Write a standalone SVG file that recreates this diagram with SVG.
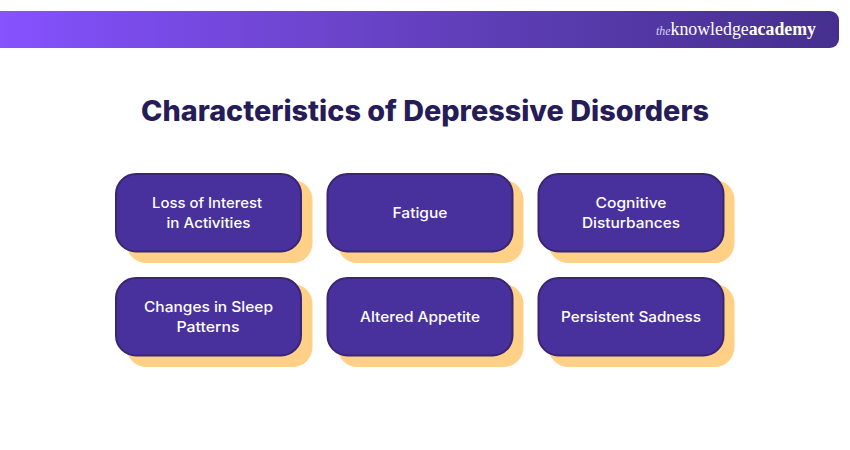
<svg xmlns="http://www.w3.org/2000/svg" width="850" height="450" viewBox="0 0 850 450">
<style>
.s{fill:#ffd086}
.c{fill:#48319d;stroke:#3a2670;stroke-width:2}
.t{font-family:"Inter","Open Sans",sans-serif;font-size:14.5px;font-weight:500;fill:#fff;text-anchor:middle}
.h{font-family:"Inter","Open Sans",sans-serif;font-size:28px;font-weight:800;fill:#261c58;text-anchor:middle}
.l{font-family:"Liberation Serif",serif;font-size:18px;fill:#fff}
</style>
<defs><linearGradient id="g" x1="0" y1="0" x2="1" y2="0"><stop offset="0" stop-color="#8752ff"/><stop offset=".14" stop-color="#7b4cec"/><stop offset=".36" stop-color="#6e45d0"/><stop offset=".64" stop-color="#5a3cb0"/><stop offset="1" stop-color="#452f8e"/></linearGradient></defs>
<g id="banner"><path d="M0 11H830a9 9 0 0 1 9 9V39a9 9 0 0 1-9 9H0Z" fill="url(#g)"/>
<text x="656" y="35" class="l" textLength="160" lengthAdjust="spacingAndGlyphs"><tspan font-style="italic" font-size="12" fill="#d8d0ee">the</tspan><tspan>knowledge</tspan><tspan font-weight="700">academy</tspan></text></g>
<text id="title" x="425" y="121" class="h" textLength="568" lengthAdjust="spacingAndGlyphs">Characteristics of Depressive Disorders</text>
<g id="n1"><rect class="s" x="126.500" y="180" width="186" height="83" rx="20"/><rect class="c" x="116" y="174" width="185" height="77.500" rx="20"/><text class="t" x="207" y="208" textLength="110" lengthAdjust="spacingAndGlyphs">Loss of Interest</text><text class="t" x="208.500" y="228" textLength="84" lengthAdjust="spacingAndGlyphs">in Activities</text></g>
<g id="n2"><rect class="s" x="337.500" y="180" width="186" height="83" rx="20"/><rect class="c" x="327.500" y="174" width="185" height="77.500" rx="20"/><text class="t" x="420" y="218" textLength="55" lengthAdjust="spacingAndGlyphs">Fatigue</text></g>
<g id="n3"><rect class="s" x="548.500" y="180" width="186" height="83" rx="20"/><rect class="c" x="538.500" y="174" width="185" height="77.500" rx="20"/><text class="t" x="631" y="208" textLength="71" lengthAdjust="spacingAndGlyphs">Cognitive</text><text class="t" x="631" y="228" textLength="98" lengthAdjust="spacingAndGlyphs">Disturbances</text></g>
<g id="n4"><rect class="s" x="126.500" y="284" width="186" height="83" rx="20"/><rect class="c" x="116" y="278" width="185" height="77.500" rx="20"/><text class="t" x="208.500" y="312" textLength="129" lengthAdjust="spacingAndGlyphs">Changes in Sleep</text><text class="t" x="208" y="332" textLength="63" lengthAdjust="spacingAndGlyphs">Patterns</text></g>
<g id="n5"><rect class="s" x="337.500" y="284" width="186" height="83" rx="20"/><rect class="c" x="327.500" y="278" width="185" height="77.500" rx="20"/><text class="t" x="420" y="322" textLength="120" lengthAdjust="spacingAndGlyphs">Altered Appetite</text></g>
<g id="n6"><rect class="s" x="548.500" y="284" width="186" height="83" rx="20"/><rect class="c" x="538.500" y="278" width="185" height="77.500" rx="20"/><text class="t" x="631" y="322" textLength="140" lengthAdjust="spacingAndGlyphs">Persistent Sadness</text></g>
<g id="connectors"/>
</svg>
